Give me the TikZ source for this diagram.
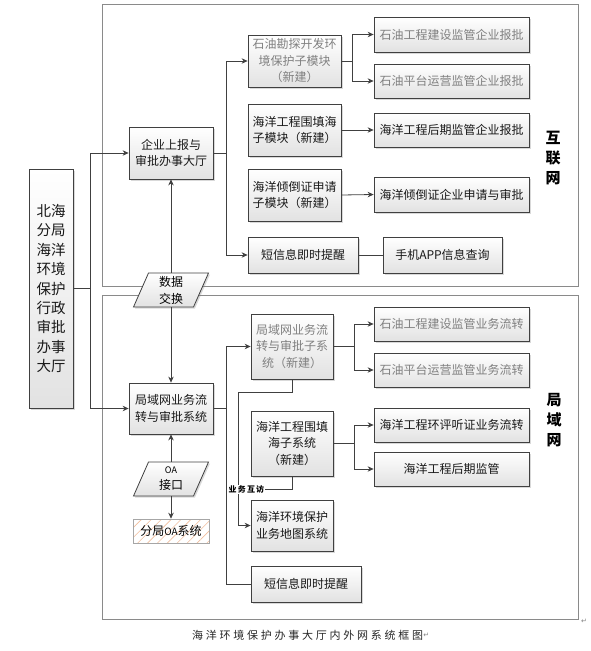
\documentclass[tikz,border=0pt]{standalone}
\usepackage{fontspec}
\setmainfont{Noto Sans CJK SC}
\newfontfamily\symf{DejaVu Sans}
\newfontfamily\capf[LetterSpace=25]{Noto Sans CJK SC}
\newfontfamily\lblf[LetterSpace=15]{Noto Sans CJK SC}
\usetikzlibrary{arrows.meta,shadows,patterns.meta}
\definecolor{bd}{HTML}{404040}
\definecolor{gt}{HTML}{808080}
\definecolor{fr}{HTML}{8A8A8A}
\definecolor{bot}{HTML}{E2E2E2}
\definecolor{hatch}{HTML}{F2BE9C}
\tikzset{
  box/.style={draw=bd, line width=0.8pt, top color=white, bottom color=bot,
    align=center, font=\fontsize{12}{16.5}\selectfont, inner sep=1pt, text=black!90,
    drop shadow={shadow xshift=1.5pt, shadow yshift=-1.5pt, opacity=0.3}},
  gbox/.style={box, text=gt},
  para/.style={draw=bd, line width=0.8pt, top color=white, bottom color=bot,
    drop shadow={shadow xshift=1.5pt, shadow yshift=-1.5pt, opacity=0.3}},
  frame/.style={draw=fr, line width=1pt},
  ln/.style={draw=bd, line width=0.8pt},
  arr/.style={ln, -{Stealth[length=6pt,width=5.5pt]}},
  lab/.style={font=\bfseries\fontsize{15}{20}\selectfont, align=center, text=black},
}
\begin{document}
\begin{tikzpicture}[x=1pt,y=-1pt]
\useasboundingbox (0,0) rectangle (590,651);
% frames
\draw[frame] (102.5,4) rectangle (578.7,286);
\draw[frame] (102.5,295) rectangle (578.7,619.5);

% left box
\node[box, minimum width=44pt, minimum height=239pt, font=\fontsize{14.5}{19.4}\selectfont] (bh) at (51,288.5)
  {北海\\分局\\海洋\\环境\\保护\\行政\\审批\\办事\\大厅};

% hubs
\node[box, minimum width=84pt, minimum height=52pt] (qy) at (171,153) {企业上报与\\审批办事大厅};
\node[box, minimum width=84pt, minimum height=51pt] (jy) at (171,408.5) {局域网业务流\\转与审批系统};

% parallelograms
\path[para] (148.5,273) -- (208.5,273) -- (193.5,307) -- (133.5,307) -- cycle;
\node[minimum width=60pt, minimum height=34pt, inner sep=0pt, align=center,
  font=\fontsize{12}{17}\selectfont] (sj) at (171,290) {数据\\交换};
\path[para] (148.5,462) -- (208.5,462) -- (193.5,496) -- (133.5,496) -- cycle;
\node[minimum width=60pt, minimum height=34pt, inner sep=0pt, align=center,
  font=\fontsize{12}{16}\selectfont] (oa) at (171,479) {{\fontsize{9}{10}\selectfont OA}\\接口};
\node[draw=gray!70, line width=0.8pt, preaction={fill=white},
  pattern={Lines[angle=45,distance=7pt,line width=0.6pt]}, pattern color=hatch,
  minimum width=76pt, minimum height=24pt, inner sep=0pt,
  font=\fontsize{12}{14}\selectfont] (oas) at (171,531) {分局{\fontsize{10}{12}\selectfont OA}系统};

% internet column 1
\node[gbox, minimum width=93pt, minimum height=52pt] (ks) at (294.5,61) {石油勘探开发环\\境保护子模块\\（新建）};
\node[box, minimum width=93pt, minimum height=52pt] (wt) at (294.5,130) {海洋工程围填海\\子模块（新建）};
\node[box, minimum width=93pt, minimum height=52pt] (qd) at (294.5,195) {海洋倾倒证申请\\子模块（新建）};
\node[box, minimum width=110pt, minimum height=36pt] (dx1) at (303,255) {短信息即时提醒};

% internet column 2
\node[gbox, minimum width=155pt, minimum height=35pt] (r1) at (451.5,34.5) {石油工程建设监管企业报批};
\node[gbox, minimum width=155pt, minimum height=34pt] (r2) at (451.5,81) {石油平台运营监管企业报批};
\node[box, minimum width=155pt, minimum height=34pt] (r3) at (451.5,130) {海洋工程后期监管企业报批};
\node[box, minimum width=155pt, minimum height=35pt] (r4) at (451.5,194.5) {海洋倾倒证企业申请与审批};
\node[box, minimum width=119pt, minimum height=36pt] (app) at (442.5,255) {手机APP信息查询};

% LAN column 1
\node[gbox, minimum width=82pt, minimum height=65pt] (ls) at (292,346.5) {局域网业务流\\转与审批子系\\统（新建）};
\node[box, minimum width=82pt, minimum height=65pt] (wt2) at (292,443.5) {海洋工程围填\\海子系统\\（新建）};
\node[box, minimum width=82pt, minimum height=51pt] (dt) at (292,525.5) {海洋环境保护\\业务地图系统};
\node[box, minimum width=110pt, minimum height=36pt] (dx2) at (306,584) {短信息即时提醒};

% LAN column 2
\node[gbox, minimum width=155pt, minimum height=34pt] (l1) at (451.5,324) {石油工程建设监管业务流转};
\node[gbox, minimum width=155pt, minimum height=34pt] (l2) at (451.5,370) {石油平台运营监管业务流转};
\node[box, minimum width=155pt, minimum height=34pt] (l3) at (451.5,425) {海洋工程环评听证业务流转};
\node[box, minimum width=155pt, minimum height=34pt] (l4) at (451.5,469) {海洋工程后期监管};

% side labels
\node[lab] (inet) at (553,158) {互\\联\\网};
\node[lab] (lan) at (554,420) {局\\域\\网};

% connectors
\coordinate (bR) at (90,288.5);
\draw[ln] (bh.east) -- (bR);
\draw[arr] (bR) |- (qy.west);
\draw[arr] (bR) |- (jy.west);

\coordinate (qR) at (226.7,153);
\draw[arr] (qy.east) -- (qR) |- (ks.west);
\draw[arr] (qR) |- (dx1.west);

\coordinate (kR) at (352.7,61);
\draw[arr] (ks.east) -- (kR) |- (r1.west);
\draw[arr] (kR) |- (r2.west);
\draw[arr] (wt.east) -- (r3.west);
\draw[arr] (qd.east) -- (r4.west);
\draw[ln] (dx1.east) -- (app.west);

\draw[arr] (sj.north) -- (qy.south);
\draw[arr] (sj.south) -- (jy.north);
\draw[arr] (oa.north) -- (jy.south);
\draw[arr] (oa.south) -- (oas.north);

\coordinate (jR) at (226.7,408.5);
\draw[arr] (jy.east) -- (jR) |- (ls.west);
\draw[ln] (jR) |- (dx2.west);

\coordinate (lR) at (354,346.5);
\draw[arr] (ls.east) -- (lR) |- (l1.west);
\draw[arr] (lR) |- (l2.west);
\coordinate (wR) at (354,443.5);
\draw[arr] (wt2.east) -- (wR) |- (l3.west);
\draw[arr] (wR) |- (l4.west);

\coordinate (h1) at (238.3,392);
\draw[arr] (ls.south) |- (h1) |- (dt.west);
\node[fill=white, inner sep=0.6pt, font=\lblf\bfseries\fontsize{8}{9}\selectfont] (hfl) at (246.4,489.3) {业务互访};
\draw[ln] (wt2.south) |- (hfl.east);

% caption and marks
\node[font=\capf\fontsize{11}{13}\selectfont, text=black!85, inner sep=0pt] (cap) at (307.5,635) {海洋环境保护办事大厅内外网系统框图};
\node[font=\symf\fontsize{7}{8}\selectfont, text=gray, anchor=west, inner sep=0pt] (cr1) at (cap.east) {↵};
\node[font=\symf\fontsize{7}{8}\selectfont, text=gray, inner sep=0pt] (cr2) at (584,621) {↵};
\end{tikzpicture}
\end{document}
